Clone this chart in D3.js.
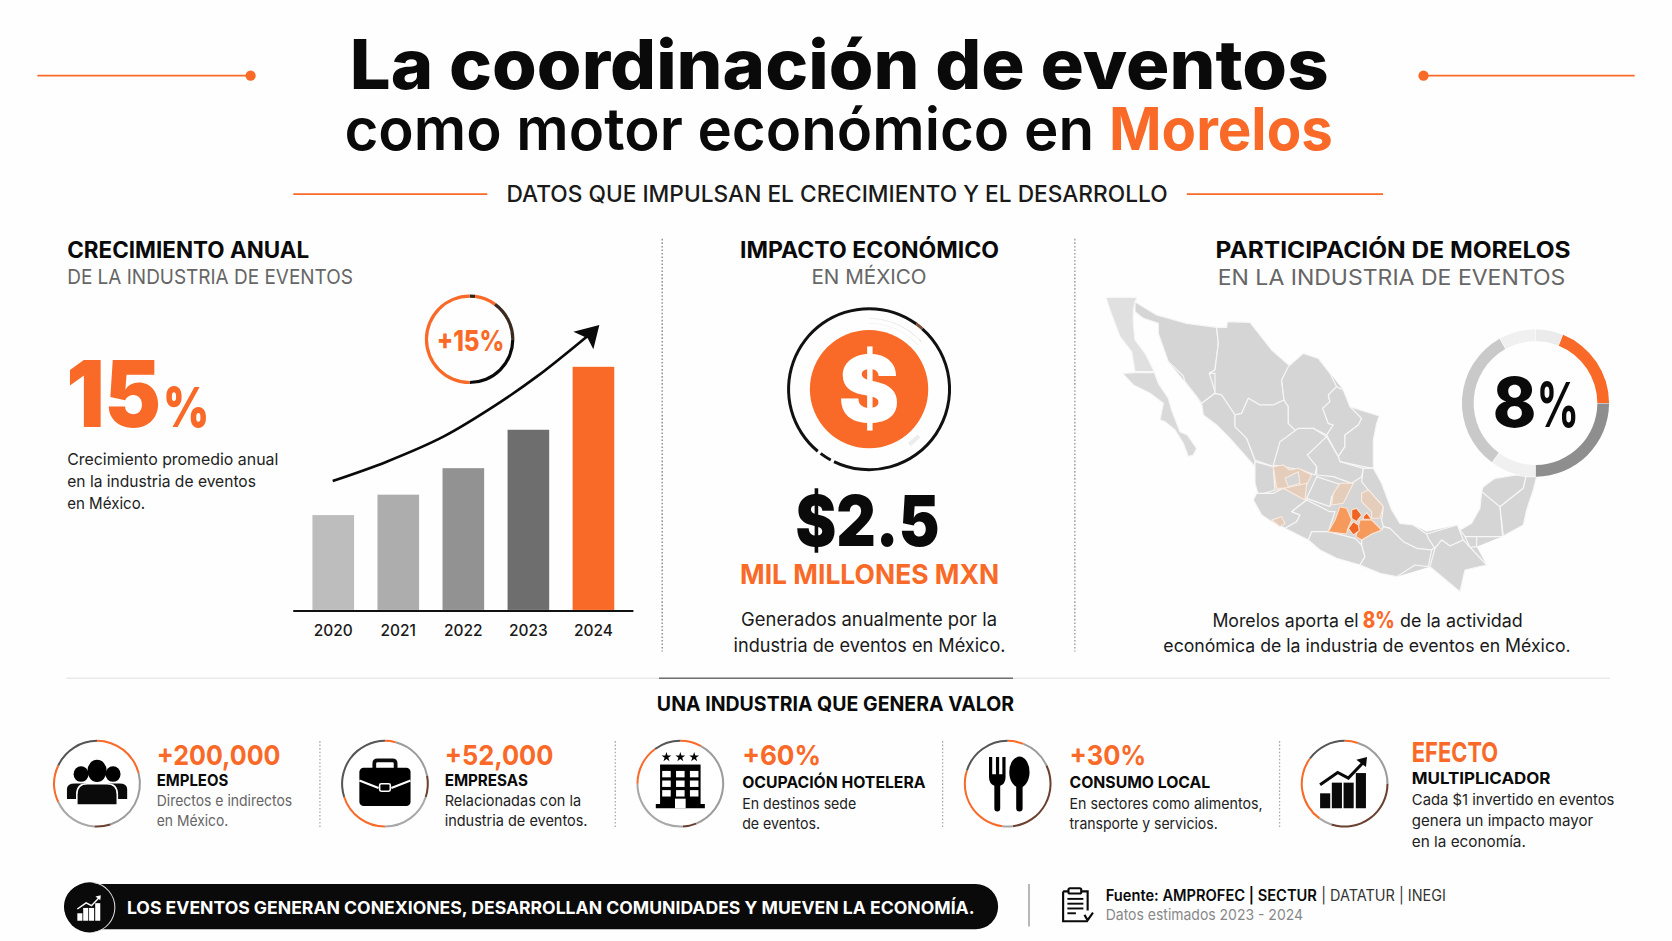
<!DOCTYPE html>
<html lang="es"><head><meta charset="utf-8">
<script src="https://cdn.jsdelivr.net/npm/d3@7"></script>
<style>html,body{margin:0;padding:0;background:#fefefe}svg{display:block}text{font-family:Inter,"Noto Sans",sans-serif}</style>
</head><body><svg id="c" width="1672" height="941" viewBox="0 0 1568 882.5"></svg>
<script>
// ---- data ----
const years = ["2020","2021","2022","2023","2024"];
const growthIndex = [39, 47.4, 58.3, 74.1, 100];
const donutShare = [6, 19, 25, 10, 32, 8];
const kpiValues = ["+200,000","+52,000","+60%","+30%","EFECTO"];
const kpiLabels = ["EMPLEOS","EMPRESAS","OCUPACIÓN HOTELERA","CONSUMO LOCAL","MULTIPLICADOR"];
const kpiNotes = [["Directos e indirectos","en México."],["Relacionadas con la","industria de eventos."],["En destinos sede","de eventos."],["En sectores como alimentos,","transporte y servicios."],["Cada $1 invertido en eventos","genera un impacto mayor","en la economía."]];
const kpiRingSpans = [[21,24,6,17,14,18],[4,18,8,20,20,30],[8,36,5,26,15,10],[6,12,30,4,28,20],[5,20,30,5,25,15]];
const stateNames = ["Baja California","Baja California Sur","Sonora","Chihuahua","Sinaloa","Durango","Coahuila","Nuevo León","Tamaulipas","San Luis Potosí","Zacatecas","Nayarit","Jalisco","Michoacán","Guerrero","Querétaro","Veracruz","Tabasco","Chiapas","Oaxaca","Campeche","Tabasco Este","Yucatán","Quintana Roo"];
const stateOutlines = [
 [[18,22],[110,22],[100,60],[100,100],[105,150],[135,190],[163,245],[105,245],[95,185],[60,140],[45,100],[30,60]],
 [[68,250],[105,248],[163,247],[175,280],[205,325],[215,360],[240,425],[262,435],[290,475],[280,495],[265,500],[250,460],[225,420],[195,395],[180,390],[190,340],[150,310],[100,285]],
 [[105,35],[170,75],[260,100],[350,112],[355,160],[345,240],[328,250],[345,305],[345,310],[305,340],[290,320],[255,275],[250,258],[205,215],[175,130],[175,100],[130,85],[105,65]],
 [[350,112],[380,112],[382,95],[450,97],[515,180],[570,228],[545,270],[552,330],[520,345],[480,345],[445,325],[425,370],[405,375],[365,315],[345,310],[345,250],[328,250],[345,240],[355,160]],
 [[305,340],[345,310],[365,315],[405,375],[405,410],[440,445],[465,510],[465,530],[390,445],[350,405],[310,375]],
 [[405,375],[425,370],[445,325],[480,345],[520,345],[552,330],[565,350],[565,400],[590,425],[540,460],[525,520],[520,530],[465,510],[440,445],[405,410]],
 [[565,230],[610,190],[655,205],[690,250],[710,290],[685,315],[690,335],[668,355],[685,400],[700,405],[680,435],[640,415],[590,425],[565,400],[565,350],[552,330],[545,270]],
 [[710,290],[730,300],[750,350],[785,385],[775,405],[735,435],[735,470],[715,500],[680,435],[700,405],[685,400],[668,355],[690,335],[685,315]],
 [[750,350],[838,378],[830,400],[820,450],[820,535],[790,530],[720,515],[715,500],[735,470],[735,435],[775,405],[785,385]],
 [[680,440],[715,500],[720,515],[790,535],[785,560],[755,580],[700,560],[650,555],[650,530],[620,495],[630,480]],
 [[540,455],[595,415],[640,415],[680,440],[622,495],[650,530],[645,555],[605,540],[520,525]],
 [[465,515],[520,530],[525,600],[475,615],[465,580]],
 [[470,610],[520,610],[550,595],[620,630],[575,665],[600,675],[590,695],[555,715],[515,695],[485,675],[460,630]],
 [[620,630],[690,665],[705,665],[685,725],[635,725],[625,750],[555,715],[590,695],[600,675],[575,665]],
 [[625,750],[635,725],[685,725],[765,745],[785,765],[795,800],[780,825],[710,805],[660,780]],
 [[650,560],[725,585],[695,620],[690,650],[620,625]],
 [[820,535],[845,580],[875,660],[900,700],[940,705],[970,725],[985,735],[1005,770],[995,780],[950,775],[910,755],[870,715],[850,710],[845,690],[850,650],[805,600],[785,575],[790,535]],
 [[980,732],[1072,705],[1090,750],[1050,768],[1025,750],[1005,775],[985,745]],
 [[1005,775],[1025,750],[1050,768],[1090,750],[1160,825],[1095,840],[1080,905],[990,830]],
 [[785,750],[815,732],[845,720],[850,710],[870,715],[910,755],[950,775],[995,780],[985,830],[945,825],[890,860],[840,850],[780,825],[795,800],[785,765]],
 [[1145,605],[1200,650],[1208,740],[1130,740],[1100,745],[1080,720],[1115,700],[1140,655]],
 [[1095,740],[1130,740],[1130,770],[1110,772]],
 [[1150,590],[1185,565],[1250,555],[1278,560],[1270,595],[1200,650],[1145,605]],
 [[1278,560],[1310,560],[1300,600],[1280,660],[1270,705],[1210,738],[1200,650],[1270,595]]
];
const landOutline = [[105,35],[170,75],[260,100],[350,112],[380,112],[382,95],[450,97],[515,180],[565,228],[610,190],[655,205],[690,250],[730,300],[750,350],[838,378],[830,400],[820,450],[820,535],[845,580],[875,660],[900,700],[940,705],[980,725],[1072,705],[1080,720],[1115,700],[1140,655],[1145,605],[1150,590],[1185,565],[1250,555],[1310,560],[1300,600],[1280,660],[1270,705],[1210,738],[1130,770],[1160,825],[1095,840],[1080,905],[990,830],[890,860],[840,850],[780,825],[710,805],[660,780],[625,750],[555,715],[515,695],[485,675],[460,630],[470,610],[475,615],[465,580],[465,530],[390,445],[350,405],[310,375],[305,345],[290,320],[255,275],[205,215],[175,130],[175,100],[130,85],[105,65]];
const paleRegions = [
 [[520,530],[550,525],[570,540],[595,535],[635,555],[615,595],[595,605],[560,595],[530,595]],
 [[530,600],[620,580],[615,630],[550,595]],
 [[515,690],[545,680],[555,700],[540,710]],
 [[720,580],[760,580],[730,640],[695,645],[700,610]],
 [[785,610],[805,600],[850,650],[840,685],[815,685],[815,665],[785,635]]
];
const holeRegions = [[[555,565],[595,545],[600,580],[565,590]]];
const midRegions = [
 [[720,650],[740,655],[755,690],[742,720],[740,732],[685,725],[705,690]],
 [[780,690],[815,690],[845,720],[815,732],[785,750],[768,740]]
];
const coreRegions = [
 [[755,660],[770,655],[785,675],[770,695],[755,685]],
 [[790,680],[800,668],[815,688],[790,688]],
 [[745,715],[760,695],[775,705],[778,722],[760,735]]
];
const trendCurve = [[38,573],[200,515],[370,440],[520,350],[650,260],[800,140]];
const trendHead = [[838,105],[760,125],[803,145],[820,178]];

// ---- layout & styles ----
const ORANGE="#f96a28", INK="#0a0a0a";
const svg=d3.select("#c");
svg.append("rect").attr("width",1568).attr("height",882.5).attr("fill","#fefefe");
function T(x0,x1,y,s,size,w,col){
  return svg.append("text").attr("x",x0).attr("y",y).attr("font-size",size).attr("font-weight",w).attr("fill",col||INK)
   .attr("textLength",x1-x0).attr("lengthAdjust","spacingAndGlyphs").text(s);
}
function L(x1,y1,x2,y2,col,w,dash){const l=svg.append("line").attr("x1",x1).attr("y1",y1).attr("x2",x2).attr("y2",y2).attr("stroke",col).attr("stroke-width",w);if(dash)l.attr("stroke-dasharray",dash);return l;}

// header
T(328,1246,83,"La coordinación de eventos",64,800);
T(323,1026,141,"como motor económico en",55,600);
T(1040,1250,141,"Morelos",55,700,ORANGE);
L(35,71,235,71,ORANGE,1.6);svg.append("circle").attr("cx",235).attr("cy",71).attr("r",4.8).attr("fill",ORANGE);
L(1335,71,1533,71,ORANGE,1.6);svg.append("circle").attr("cx",1335).attr("cy",71).attr("r",4.8).attr("fill",ORANGE);
L(275,182,457,182,ORANGE,1.6);L(1113,182,1297,182,ORANGE,1.6);
T(475,1095,189,"DATOS QUE IMPULSAN EL CRECIMIENTO Y EL DESARROLLO",21,500,"#1a1a1a");

// column separators
L(621,224,621,611,"#8a8a8a",1.3,"1.5 1.8");L(1008,224,1008,611,"#9a9a9a",1.3,"1.5 1.8");

// left column
T(63,331,266,"DE LA INDUSTRIA DE EVENTOS",19,400,"#666");
T(63,290,242,"CRECIMIENTO ANUAL",21,700);
T(62,151,400,"15",87,900,ORANGE);
T(153,196,400,"%",52,900,ORANGE);
T(63,261,436,"Crecimiento promedio anual",15.5,400,"#222");
T(63,240,456.5,"en la industria de eventos",15.5,400,"#222");
T(63,136,477,"en México.",15.5,400,"#222");

const x=d3.scaleBand().domain(years).range([282,587]).paddingInner(.36).paddingOuter(.18);
const y=d3.scaleLinear().domain([0,100]).range([572,344]);
const barCol=d3.scaleOrdinal().domain(years).range(["#bdbdbd","#adadad","#929292","#6e6e6e",ORANGE]);
svg.append("g").selectAll("rect").data(years).join("rect")
 .attr("x",d=>x(d)).attr("width",x.bandwidth()).attr("y",(d,i)=>y(growthIndex[i])).attr("height",(d,i)=>y(0)-y(growthIndex[i])).attr("fill",d=>barCol(d));
const ax=svg.append("g").attr("transform","translate(0,572.5)").call(d3.axisBottom(x).tickSize(0).tickPadding(14));
ax.select(".domain").remove();
ax.selectAll("text").attr("font-size",14.5).attr("font-weight",500).attr("fill","#1a1a1a").style("font-family","Inter");
L(275,573,594,573,"#111",2);
// trend arrow
const cx2=d3.scaleLinear().domain([0,3]).range([320/1.0663,321/1.0663]);
const cy2=d3.scaleLinear().domain([0,3]).range([290/1.0663,291/1.0663]);
svg.append("path").attr("d",d3.line().x(d=>cx2(d[0])).y(d=>cy2(d[1])).curve(d3.curveCatmullRom)(trendCurve)).attr("fill","none").attr("stroke",INK).attr("stroke-width",2.5);
svg.append("path").attr("d",d3.line().x(d=>cx2(d[0])).y(d=>cy2(d[1])).curve(d3.curveLinearClosed)(trendHead)).attr("fill",INK);
// +15 badge
const arc=d3.arc();
function ring(cx,cy,r,w,spans,cols,pad){
  const g=svg.append("g").attr("transform",`translate(${cx},${cy})`);
  g.selectAll("path").data(d3.pie().sort(null).padAngle(pad||0)(spans)).join("path")
   .attr("d",d=>arc({innerRadius:r-w/2,outerRadius:r+w/2,startAngle:d.startAngle,endAngle:d.endAngle,padAngle:d.padAngle}))
   .attr("fill",(d,i)=>cols[i%cols.length]);
  return g;
}
ring(440.4,318.2,40.5,3,[2,8,15,25,50],["#3a2418",ORANGE,"#3a2a20","#0a0a0a",ORANGE]);
T(409.5,473,329,"+15%",27,800,ORANGE);

// centre column
T(694,937,242,"IMPACTO ECONÓMICO",21,700);
T(761,869,266,"EN MÉXICO",19,400,"#666");
ring(815,365,75.5,2.8,[10,1.5,45.7,0.7,2.4,0.7,39],["#111","#7a4a36","#111","#fefefe","#111","#fefefe","#111"]);
ring(815,365,64,5,[12.5,0.8,86.7],["#e8e8e8","#f3d7c7","#fefefe"]);
ring(815,365,64,4,[37,3,60],["#fefefe","#ececec","#fefefe"]);
svg.append("circle").attr("cx",815).attr("cy",365).attr("r",55.5).attr("fill",ORANGE);
svg.append("text").attr("x",815).attr("y",396).attr("text-anchor","middle").attr("font-size",86).attr("font-weight",900).attr("fill","#fff").text("$");
T(746,881,512,"$2.5",66,900);
T(694,937,548,"MIL MILLONES MXN",26,700,ORANGE);
T(695,935,587,"Generados anualmente por la",17.5,400,"#1a1a1a");
T(688,943,611,"industria de eventos en México.",17.5,400,"#1a1a1a");

// right column
T(1140,1473,242,"PARTICIPACIÓN DE MORELOS",21,700);
T(1142,1468,267,"EN LA INDUSTRIA DE EVENTOS",19.5,400,"#666");
const mx=d3.scaleLinear().domain([-3300,1716]).range([0,1568]);
const my=d3.scaleLinear().domain([-870,1953]).range([0,882.5]);
const shape=d3.line().x(d=>mx(d[0])).y(d=>my(d[1])).curve(d3.curveLinearClosed);
const map=svg.append("g");
map.append("path").attr("d",shape(landOutline)).attr("fill","#d5d5d6");
map.selectAll("path.st").data(stateOutlines).join("path").attr("class","st").attr("d",shape)
 .attr("fill",(d,i)=>i===0?"#e0e0e0":i===1?"#d9d9d9":"#d5d5d6").attr("stroke","#f7f7f7").attr("stroke-width",1.1).attr("stroke-linejoin","round")
 .append("title").text((d,i)=>stateNames[i]);
const tint=(arr,col,st)=>map.append("g").selectAll("path").data(arr).join("path").attr("d",shape).attr("fill",col).attr("stroke",st).attr("stroke-width",1).attr("stroke-linejoin","round");
tint(paleRegions,"#e4cdba","#fbeadf");
tint(holeRegions,"#d5d5d6","#fbeadf");
tint(midRegions,"#f59a5c","#fde3d0");
tint(coreRegions,"#ee6526","#fde3d0");
// donut
ring(1440,378,63.5,11,donutShare,["#ebebeb",ORANGE,"#8e8e8e","#f0f0f0","#c9c9c9","#f0f0f0"],.006);
T(1400,1441,400,"8",64,800);
T(1441,1481,400,"%",58,700);
T(1137,1274,588,"Morelos aporta el",17,400,"#1a1a1a");
T(1278,1308,588.5,"8%",21,800,ORANGE);
T(1313,1428,588,"de la actividad",17,400,"#1a1a1a");
T(1091,1473,611,"económica de la industria de eventos en México.",17,400,"#1a1a1a");

// section divider
L(62,636,1510,636,"#e9e9e9",1.4);L(618,636,950,636,"#707070",1.4);
T(616,951,667,"UNA INDUSTRIA QUE GENERA VALOR",19,700);

// KPI row
const ringCx=[91,361,638,945,1261];
const textX=[147,417,696,1003,1324];
const valueEnd=[263,519,770,1075,1405];
const valueBase=[717,717,717,717,715];
const labelEnd=[214,495,868,1135,1454];
const labelBase=[737,737,739,739,735];
const noteEnd=[[274,214],[545,551],[803,769],[1184,1142],[1514,1494,1431]];
const noteBase=[[756,775],[756,775],[759,777],[759,777],[755,775,794]];
const ringCols=[ORANGE,"#9c9c9c","#6a4030","#a8a8a8",ORANGE,"#555"];
kpiValues.forEach((v,i)=>{
  svg.append("circle").attr("cx",ringCx[i]).attr("cy",735).attr("r",40).attr("fill","#fff");
  ring(ringCx[i],735,40.2,1.9,kpiRingSpans[i],ringCols);
  T(textX[i],valueEnd[i],valueBase[i],v,26,700,ORANGE);
  T(textX[i],labelEnd[i],labelBase[i],kpiLabels[i],15,700);
  kpiNotes[i].forEach((n,j)=>T(textX[i],noteEnd[i][j],noteBase[i][j],n,14,400,i===0?"#666":"#222"));
});
[300,577,884,1200].forEach(px=>L(px,695,px,776,"#aaa",1.2,"1.5 1.8"));

function icon(i){return svg.append("g").attr("transform",`translate(${ringCx[i]},735)`);}
// people
{const g=icon(0),wb=(p)=>g.append("path").attr("d",p).attr("fill",INK).attr("stroke","#fff").attr("stroke-width",1.5);
 g.append("ellipse").attr("cx",-15).attr("cy",-9).attr("rx",7).attr("ry",7.5);
 g.append("ellipse").attr("cx",15).attr("cy",-9).attr("rx",7).attr("ry",7.5);
 wb("M-29,15 V5 Q-29,-1 -21,-1 H-9 Q-3,-1 -3,5 V15 Z");
 wb("M3,15 V5 Q3,-1 9,-1 H21 Q29,-1 29,5 V15 Z");
 g.append("ellipse").attr("cx",0).attr("cy",-12).attr("rx",9).attr("ry",10.5);
 wb("M-19,20 V10 Q-19,0 -9,0 H9 Q19,0 19,10 V20 Z");}
// briefcase
{const g=icon(1);
 g.append("path").attr("d","M-10,-13 V-19 Q-10,-22 -7,-22 H7 Q10,-22 10,-19 V-13").attr("fill","none").attr("stroke",INK).attr("stroke-width",3.5);
 g.append("rect").attr("x",-24).attr("y",-15).attr("width",48).attr("height",36).attr("rx",4);
 g.append("path").attr("d","M-24,-3 L-6,4 M6,4 L24,-3").attr("stroke","#fff").attr("stroke-width",2).attr("fill","none");
 g.append("rect").attr("x",-5).attr("y",0).attr("width",10).attr("height",7).attr("rx",1.5).attr("stroke","#fff").attr("stroke-width",1.5);}
// hotel
{const g=icon(2);
 g.append("rect").attr("x",-19).attr("y",-18).attr("width",38).attr("height",40);
 g.append("rect").attr("x",-23).attr("y",19).attr("width",46).attr("height",4);
 [-13,0,13].forEach(cx=>{g.append("path").attr("transform",`translate(${cx},-25)`).attr("d",d3.symbol(d3.symbolStar,26)());
   [-12,-3,6].forEach(cy=>g.append("rect").attr("x",cx-4).attr("y",cy).attr("width",8).attr("height",6).attr("fill","#fff"));});
 g.append("rect").attr("x",-5).attr("y",14).attr("width",10).attr("height",9).attr("fill","#fff");}
// cutlery
{const g=icon(3);
 g.append("path").attr("d","M-17.5,-25 H-14.5 V-9 H-11 V-25 H-8 V-9 H-5 V-25 H-2 V-6 Q-2,0 -7,2 V23 Q-7,26 -9.7,26 Q-12.5,26 -12.5,23 V2 Q-17.5,0 -17.5,-6 Z");
 g.append("ellipse").attr("cx",11).attr("cy",-11).attr("rx",9.5).attr("ry",14.5);
 g.append("path").attr("d","M8,0 H14 V23 Q14,26 11,26 Q8,26 8,23 Z");}
// growth chart glyph
function growthGlyph(g,col,k){
  [[-23,9],[-12,-1],[-1,-1],[10.5,-10]].forEach(([bx,top])=>g.append("rect").attr("x",bx*k).attr("y",top*k).attr("width",9.5*k).attr("height",(23-top)*k).attr("fill",col));
  g.append("path").attr("d",`M${-23*k},${1*k} L${-6.5*k},${-10.6*k} L${3.5*k},${-5.3*k} L${19*k},${-21.5*k}`).attr("fill","none").attr("stroke",col).attr("stroke-width",2.8*k);
  g.append("path").attr("d",`M${21*k},${-25*k} L${11*k},${-22.5*k} L${20*k},${-15.6*k} Z`).attr("fill",col);
}
growthGlyph(icon(4),INK,1);

// footer pill
svg.append("rect").attr("x",60).attr("y",829).attr("width",876).attr("height",42.5).attr("rx",21).attr("fill",INK);
svg.append("circle").attr("cx",84).attr("cy",851).attr("r",23.5).attr("fill",INK);
svg.append("path").attr("transform","translate(84,851)").attr("d",arc({innerRadius:23.2,outerRadius:24.2,startAngle:.15,endAngle:3.0})).attr("fill","#ddd");
growthGlyph(svg.append("g").attr("transform","translate(84,852)"),"#fff",.5);
T(119,914,857,"LOS EVENTOS GENERAN CONEXIONES, DESARROLLAN COMUNIDADES Y MUEVEN LA ECONOMÍA.",16.5,700,"#fff");
L(965,829,965,869,"#999",1.3);
// source doc icon
{const g=svg.append("g").attr("transform","translate(996,832)").attr("fill","none").attr("stroke",INK).attr("stroke-width",2);
 g.append("path").attr("d","M1,4 H6 M18,4 H24 V22 M24,32 H1 V4");
 g.append("rect").attr("x",6).attr("y",1).attr("width",12).attr("height",5).attr("rx",1.5);
 [11,15.5,20,24.5].forEach((ly,i)=>g.append("path").attr("d",`M5,${ly} H${i===3?13:20}`).attr("stroke-width",1.8));
 g.append("path").attr("d","M21,26 L24,31 L29,24").attr("stroke-width",2);}
T(1037,1235,845,"Fuente: AMPROFEC | SECTUR",14.5,600);
T(1239,1356,845,"| DATATUR | INEGI",14.5,400,"#333");
T(1037,1222,863,"Datos estimados 2023 - 2024",14,400,"#888");
</script></body></html>
